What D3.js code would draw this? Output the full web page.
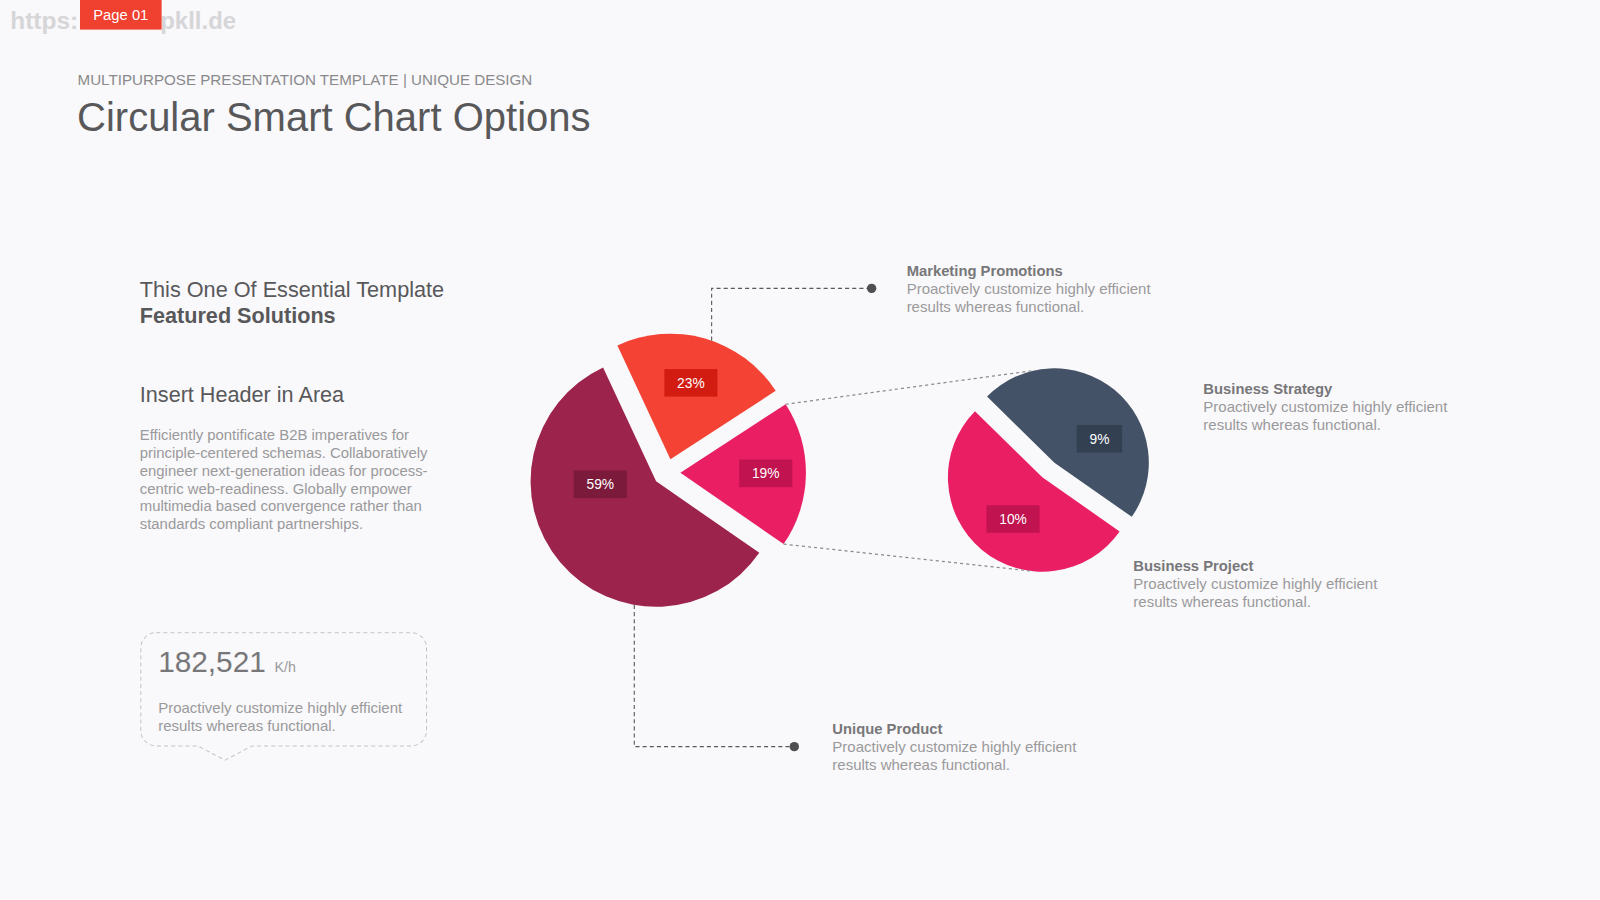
<!DOCTYPE html>
<html>
<head>
<meta charset="utf-8">
<script src="https://cdn.jsdelivr.net/npm/d3@7"></script>
<style>
  html, body { margin: 0; padding: 0; background: #f9f8fa; }
  svg { display: block; font-family: "Liberation Sans", Arial, sans-serif; }
</style>
</head>
<body>
<svg id="chart" width="1600" height="900" viewBox="0 0 1568 882"></svg>
<script>
// main pie (23 / 19 / 59) and the 19% slice broken out into a second pie
const mainNames = ["Marketing Promotions", "Business Mix", "Unique Product"];
const mainValues = [23, 19, 59];
const subNames = ["Business Project", "Business Strategy"];
const subValues = [10, 9];

const calloutTitles = ["Marketing Promotions", "Business Strategy", "Business Project", "Unique Product"];
const calloutBody = ["Proactively customize highly efficient", "results whereas functional."];

const leftHeading = ["This One Of Essential Template", "Featured Solutions"];
const leftSubheading = "Insert Header in Area";
const leftParagraph = [
  "Efficiently pontificate B2B imperatives for",
  "principle-centered schemas. Collaboratively",
  "engineer next-generation ideas for process-",
  "centric web-readiness. Globally empower",
  "multimedia based convergence rather than",
  "standards compliant partnerships."
];
const statValue = "182,521";
const statUnit = "K/h";
// watermark, only the parts not hidden by the page tag
const watermark = ["https:", "pkll.de"];

const svg = d3.select("#chart");
const rad = (deg) => (deg * Math.PI) / 180;
const polar = (x, y, r, a) => [x + r * Math.sin(a), y - r * Math.cos(a)];

const grey = { dark: "#58585a", mid: "#777779", light: "#9a9a9c" };

// ---- header ----
svg.append("text").attr("x", 10).attr("y", 28)
  .attr("font-size", 24).attr("font-weight", "bold").attr("fill", "#d6d6d8")
  .text(watermark[0]);
svg.append("text").attr("x", 157).attr("y", 28)
  .attr("font-size", 23.5).attr("font-weight", "bold").attr("fill", "#d6d6d8")
  .text(watermark[1]);
svg.append("rect").attr("x", 78.4).attr("y", 0).attr("width", 80).attr("height", 29)
  .attr("fill", "#f0402f");
svg.append("text").attr("x", 118.4).attr("y", 20).attr("text-anchor", "middle")
  .attr("font-size", 14.5).attr("fill", "#fff").text("Page 01");

svg.append("text").attr("x", 76).attr("y", 83).attr("font-size", 14.86)
  .attr("fill", "#8a8a8c").text("MULTIPURPOSE PRESENTATION TEMPLATE | UNIQUE DESIGN");
svg.append("text").attr("x", 75.5).attr("y", 128).attr("font-size", 39.2)
  .attr("fill", grey.dark).text("Circular Smart Chart Options");

// ---- left column ----
svg.append("text").attr("x", 137).attr("y", 291).attr("font-size", 21.25)
  .attr("fill", grey.dark).text(leftHeading[0]);
svg.append("text").attr("x", 137).attr("y", 317).attr("font-size", 21.2)
  .attr("font-weight", "bold").attr("fill", grey.dark).text(leftHeading[1]);
svg.append("text").attr("x", 137).attr("y", 393.5).attr("font-size", 21.2)
  .attr("fill", grey.dark).text(leftSubheading);
svg.append("g").selectAll("text").data(leftParagraph).join("text")
  .attr("x", 137).attr("y", (d, i) => 431 + i * 17.55)
  .attr("font-size", 14.6).attr("fill", grey.light).text((d) => d);

// speech-bubble box
const bx0 = 138, bx1 = 418, by0 = 620, by1 = 731, br = 15;
const bubble = d3.path();
bubble.moveTo(bx0 + br, by0);
bubble.lineTo(bx1 - br, by0);
bubble.arcTo(bx1, by0, bx1, by0 + br, br);
bubble.lineTo(bx1, by1 - br);
bubble.arcTo(bx1, by1, bx1 - br, by1, br);
bubble.lineTo(247, by1);
bubble.lineTo(220.5, 745);
bubble.lineTo(194, by1);
bubble.lineTo(bx0 + br, by1);
bubble.arcTo(bx0, by1, bx0, by1 - br, br);
bubble.lineTo(bx0, by0 + br);
bubble.arcTo(bx0, by0, bx0 + br, by0, br);
bubble.closePath();
svg.append("path").attr("d", bubble.toString()).attr("fill", "none")
  .attr("stroke", "#c4c4c6").attr("stroke-width", 1).attr("stroke-dasharray", "4,3");

svg.append("text").attr("x", 155).attr("y", 659).attr("font-size", 29.2)
  .attr("fill", grey.mid).text(statValue);
svg.append("text").attr("x", 269).attr("y", 659).attr("font-size", 14)
  .attr("fill", grey.light).text(statUnit);
svg.append("g").selectAll("text").data(calloutBody).join("text")
  .attr("x", 155).attr("y", (d, i) => 699 + i * 17.5)
  .attr("font-size", 14.7).attr("fill", grey.light).text((d) => d);

// ---- pies ----
const mainCenter = [653.3, 463], mainR = 123, mainExplode = 13.5;
const subCenter = [1027.4, 460.6], subR = 92.5, subExplode = 9.3;

const mainColors = ["#f44334", "#e91e63", "#9c234b"];
const mainBoxColors = ["#d21c12", "#c0134f", "#7b1a3b"];
const subColors = ["#e91e63", "#435266"];
const subBoxColors = ["#c0134f", "#334052"];
// label placement: angle (deg) from the slice tip and fraction of radius
const mainLabelPos = [[15, 0.63], [90.5, 0.68], [267, 0.445]];
const subLabelPos = [[215, 0.54], [62, 0.54]];

const mainStart = rad(-25);
const mainArcs = d3.pie().sort(null).startAngle(mainStart).endAngle(mainStart + 2 * Math.PI)(mainValues);
const subStart = rad(125);
const subArcs = d3.pie().sort(null).startAngle(subStart).endAngle(subStart + 2 * Math.PI)(subValues);

function tipOf(center, explode, a) {
  const mid = (a.startAngle + a.endAngle) / 2;
  return polar(center[0], center[1], explode, mid);
}

function drawPie(arcs, center, R, explode, colors, boxColors, labelPos) {
  const arcGen = d3.arc().innerRadius(0).outerRadius(R);
  const g = svg.append("g");
  arcs.forEach((a, i) => {
    const tip = tipOf(center, explode, a);
    const sg = g.append("g").attr("transform", `translate(${tip[0]},${tip[1]})`);
    sg.append("path").attr("d", arcGen(a)).attr("fill", colors[i]);
    const [la, lf] = labelPos[i];
    const lp = polar(0, 0, R * lf, rad(la));
    const t = sg.append("text").attr("x", lp[0]).attr("y", lp[1] + 4.8)
      .attr("text-anchor", "middle").attr("font-size", 13.5).attr("fill", "#fff")
      .text(a.data + "%");
    const w = t.node().getComputedTextLength() + 25;
    sg.insert("rect", "text").attr("x", lp[0] - w / 2).attr("y", lp[1] - 13.5)
      .attr("width", w).attr("height", 27).attr("fill", boxColors[i]);
  });
}

drawPie(mainArcs, mainCenter, mainR, mainExplode, mainColors, mainBoxColors, mainLabelPos);
drawPie(subArcs, subCenter, subR, subExplode, subColors, subBoxColors, subLabelPos);

// ---- connector lines between the pies ----
const midSlice = mainArcs[1];
const midTip = tipOf(mainCenter, mainExplode, midSlice);
const pinkTip = tipOf(subCenter, subExplode, subArcs[0]);
const darkTip = tipOf(subCenter, subExplode, subArcs[1]);
const linkPairs = [
  [polar(midTip[0], midTip[1], mainR, midSlice.startAngle), polar(darkTip[0], darkTip[1], subR, rad(348))],
  [polar(midTip[0], midTip[1], mainR, midSlice.endAngle), polar(pinkTip[0], pinkTip[1], subR, rad(187))]
];
svg.append("g").selectAll("line").data(linkPairs).join("line")
  .attr("x1", (d) => d[0][0]).attr("y1", (d) => d[0][1])
  .attr("x2", (d) => d[1][0]).attr("y2", (d) => d[1][1])
  .attr("stroke", "#8a8a8c").attr("stroke-width", 1.2).attr("stroke-dasharray", "3,3");

// ---- callouts ----
const elbow = (pts) => d3.line()(pts);
const topTip = tipOf(mainCenter, mainExplode, mainArcs[0]);
const botTip = tipOf(mainCenter, mainExplode, mainArcs[2]);
const mx = 697.4, my = 282.6, mdx = 854.2;
const ux = 621.6, uy = 731.7, udx = 778.4;
const mArcY = topTip[1] - Math.sqrt(mainR * mainR - (mx - topTip[0]) ** 2);
const uArcY = botTip[1] + Math.sqrt(mainR * mainR - (ux - botTip[0]) ** 2);

const leaders = svg.append("g").attr("fill", "none").attr("stroke", "#5a5a5c")
  .attr("stroke-width", 1.1).attr("stroke-dasharray", "4,3");
leaders.append("path").attr("d", elbow([[mx, mArcY], [mx, my], [mdx, my]]));
leaders.append("path").attr("d", elbow([[ux, uArcY], [ux, uy], [udx, uy]]));
svg.append("circle").attr("cx", mdx).attr("cy", my).attr("r", 4.6).attr("fill", "#4f4f52");
svg.append("circle").attr("cx", udx).attr("cy", uy).attr("r", 4.6).attr("fill", "#4f4f52");

const calloutPos = [[888.5, 270.5], [1179.3, 386], [1110.7, 559.3], [815.7, 719.3]];
calloutTitles.forEach((title, i) => {
  const [x, y] = calloutPos[i];
  const g = svg.append("g");
  g.append("text").attr("x", x).attr("y", y).attr("font-size", 14.5)
    .attr("font-weight", "bold").attr("fill", grey.mid).text(title);
  g.selectAll("text.body").data(calloutBody).join("text").attr("class", "body")
    .attr("x", x).attr("y", (d, j) => y + 17.7 * (j + 1))
    .attr("font-size", 14.7).attr("fill", grey.light).text((d) => d);
});
</script>
</body>
</html>
